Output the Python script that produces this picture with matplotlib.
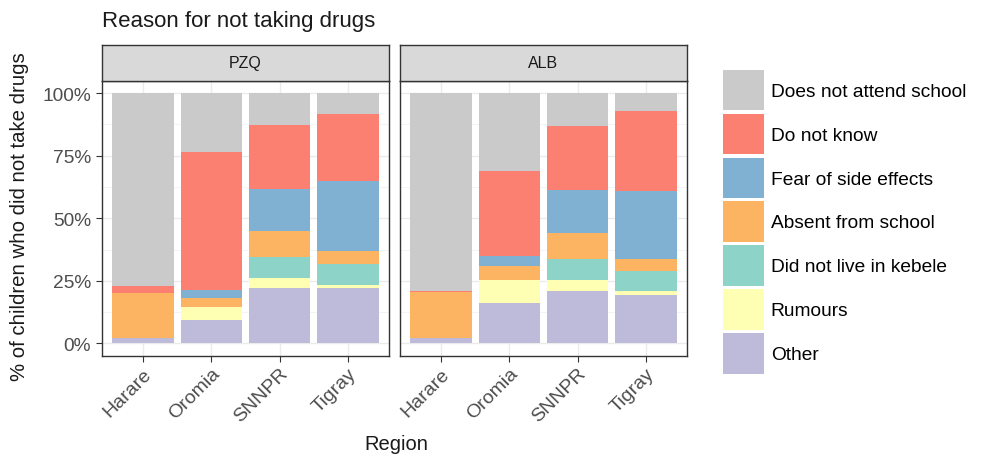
import matplotlib
matplotlib.use("Agg")
import matplotlib.pyplot as plt
from matplotlib.patches import Patch
from matplotlib.ticker import FixedLocator

plt.rcParams['font.family'] = ['Liberation Sans', 'DejaVu Sans']

regions = ["Harare", "Oromia", "SNNPR", "Tigray"]
panels = ["PZQ", "ALB"]
reasons = ["Other", "Rumours", "Did not live in kebele", "Absent from school",
           "Fear of side effects", "Do not know", "Does not attend school"]
colors = ["#BEBADA", "#FFFFB3", "#8DD3C7", "#FDB462", "#80B1D3", "#FB8072", "#CACACA"]

# percentages per reason (bottom to top), for Harare, Oromia, SNNPR, Tigray
pzq_other    = [2.3, 9.3, 22.1, 22.1]
pzq_rumours  = [0.0, 5.3, 4.1, 1.2]
pzq_kebele   = [0.0, 0.0, 8.2, 8.6]
pzq_absent   = [17.9, 3.6, 10.4, 4.9]
pzq_fear     = [0.0, 3.3, 17.0, 28.2]
pzq_dontknow = [2.7, 55.2, 25.3, 26.8]
pzq_noschool = [77.1, 23.3, 12.9, 8.2]

alb_other    = [2.3, 16.0, 20.9, 19.5]
alb_rumours  = [0.0, 9.5, 4.4, 1.4]
alb_kebele   = [0.0, 0.0, 8.6, 8.0]
alb_absent   = [18.2, 5.4, 10.2, 4.9]
alb_fear     = [0.0, 4.2, 17.3, 27.0]
alb_dontknow = [0.6, 33.7, 25.3, 31.9]
alb_noschool = [78.9, 31.2, 13.3, 7.3]

data = {
    "PZQ": [pzq_other, pzq_rumours, pzq_kebele, pzq_absent, pzq_fear, pzq_dontknow, pzq_noschool],
    "ALB": [alb_other, alb_rumours, alb_kebele, alb_absent, alb_fear, alb_dontknow, alb_noschool],
}

W, H = 988, 460
fig = plt.figure(figsize=(W / 100, H / 100), dpi=100)

panel_left = [102, 400]
panel_w = 287
panel_top, panel_bot = 81.7, 357
strip_top = 46

tick_color = "#4D4D4D"
for name, pl in zip(panels, panel_left):
    ax = fig.add_axes([pl / W, 1 - panel_bot / H, panel_w / W, (panel_bot - panel_top) / H])
    x = list(range(1, len(regions) + 1))
    bottom = [0.0] * len(regions)
    for vals, col in zip(data[name], colors):
        frac = [v / 100 for v in vals]
        ax.bar(x, frac, width=0.9, bottom=bottom, color=col, linewidth=0, zorder=2)
        bottom = [b + f for b, f in zip(bottom, frac)]
    ax.set_xlim(0.4, 4.6)
    ax.set_ylim(-0.05, 1.05)
    ax.set_xticks(x)
    ax.set_xticklabels(regions, rotation=45, ha='right', rotation_mode='anchor',
                       fontsize=14, color=tick_color)
    ax.yaxis.set_major_locator(FixedLocator([0, 0.25, 0.5, 0.75, 1.0]))
    ax.yaxis.set_minor_locator(FixedLocator([0.125, 0.375, 0.625, 0.875]))
    ax.grid(which='major', color='#EBEBEB', linewidth=1.0, zorder=0)
    ax.grid(which='minor', axis='y', color='#F2F2F2', linewidth=0.6, zorder=0)
    ax.set_axisbelow(True)
    ax.tick_params(axis='x', which='major', color='#333333', length=4.3, width=0.8, pad=2)
    ax.tick_params(axis='y', which='major', color='#333333', length=4.3, width=0.8,
                   labelsize=13.8, labelcolor=tick_color, pad=3.5)
    ax.tick_params(axis='y', which='minor', length=0)
    if name == "PZQ":
        ax.set_yticklabels(["0%", "25%", "50%", "75%", "100%"])
    else:
        ax.tick_params(axis='y', which='major', labelleft=False, length=0)
    for s in ax.spines.values():
        s.set_color('#333333')
        s.set_linewidth(1.0)
    # strip
    sax = fig.add_axes([pl / W, 1 - panel_top / H, panel_w / W, (panel_top - strip_top) / H])
    sax.set_facecolor('#D9D9D9')
    sax.set_xticks([])
    sax.set_yticks([])
    for s in sax.spines.values():
        s.set_color('#333333')
        s.set_linewidth(1.0)
    sax.text(0.5, 0.5, name, ha='center', va='center', fontsize=11.5, color='#1A1A1A',
             transform=sax.transAxes)

fig.text(102 / W, 1 - 22 / H, "Reason for not taking drugs", fontsize=16,
         ha='left', va='center', color='#1A1A1A')
fig.text(20 / W, 1 - 217 / H, "% of children who did not take drugs", fontsize=14.7,
         rotation=90, ha='center', va='center', color='#1A1A1A')
fig.text(396 / W, 1 - 445 / H, "Region", fontsize=14.5, ha='center', va='center',
         color='#1A1A1A')

handles = [Patch(facecolor=c, edgecolor='none') for c in colors[::-1]]
labels = reasons[::-1]
fs = 13.8
px = fs * 100 / 72
fig.legend(handles, labels, loc='upper left', bbox_to_anchor=(723 / W, 1 - 70.7 / H),
           frameon=False, fontsize=fs, handlelength=41 / px,
           handleheight=41 / px / 0.74, labelspacing=3.2 / px,
           handletextpad=0.35, borderpad=0, borderaxespad=0)

fig.savefig("out.png", dpi=100)
